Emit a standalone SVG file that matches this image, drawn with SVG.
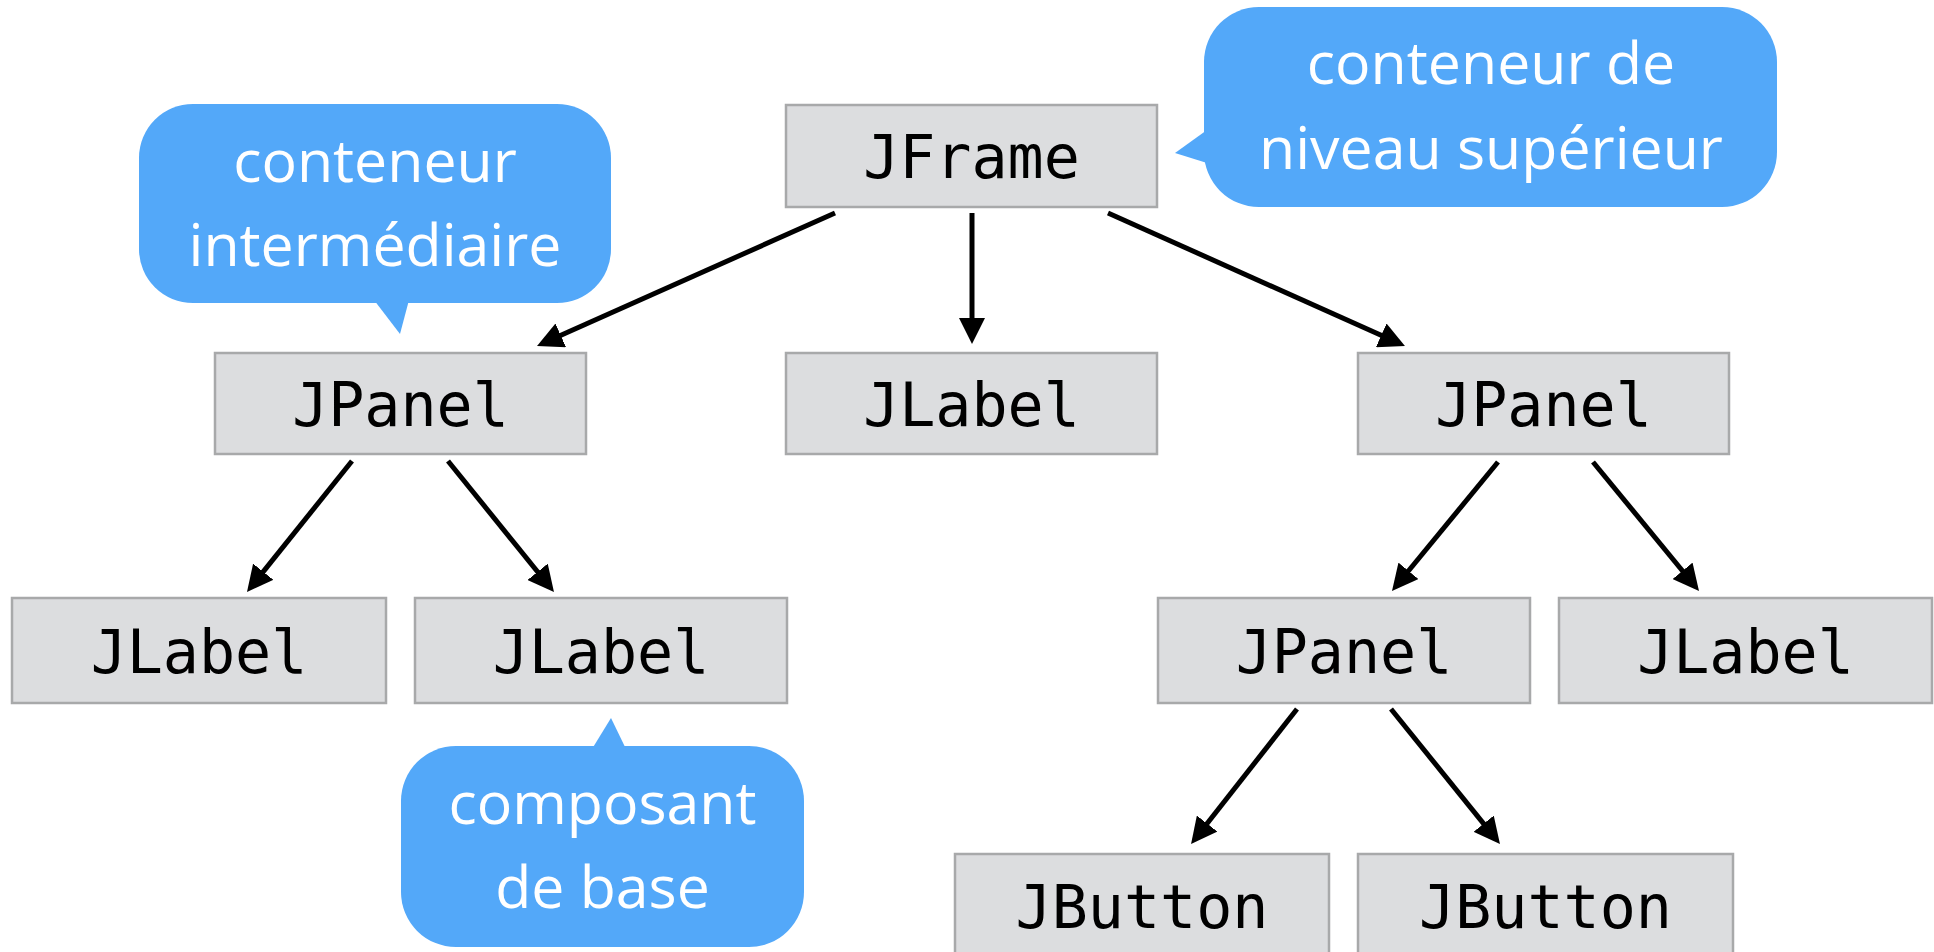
<svg xmlns="http://www.w3.org/2000/svg" width="1934" height="952" viewBox="0 0 1934 952">
<defs>
<style>
.box{fill:#dcdddf;stroke:#a8a9aa;stroke-width:2.5}
.lbl{font-family:"DejaVu Sans Mono","Liberation Mono",monospace;font-size:60px;fill:#000;text-anchor:middle}
.bub{fill:#53a8f9}
.btxt{font-family:"Open Sans","Noto Sans",sans-serif;font-weight:400;font-size:59px;fill:#fff;text-anchor:middle}
.edge{stroke:#000;stroke-width:5;fill:none;marker-end:url(#ah)}
</style>
<marker id="ah" markerUnits="userSpaceOnUse" markerWidth="26" markerHeight="26" refX="6" refY="13" orient="auto">
<path d="M0,0 L26,13 L0,26 Z" fill="#000"/>
</marker>
</defs>
<rect width="1934" height="952" fill="#fff"/>

<g id="connectors">
<line class="edge" x1="835" y1="213" x2="555.3" y2="337.8"/>
<line class="edge" x1="972" y1="213" x2="972" y2="324"/>
<line class="edge" x1="1108" y1="213" x2="1386.7" y2="337.8"/>
<line class="edge" x1="352" y1="461" x2="259.5" y2="576.4"/>
<line class="edge" x1="448" y1="461" x2="541.4" y2="576.5"/>
<line class="edge" x1="1498" y1="462" x2="1404.7" y2="575.5"/>
<line class="edge" x1="1593" y1="462" x2="1686.3" y2="575.5"/>
<line class="edge" x1="1297" y1="709" x2="1203.4" y2="828.3"/>
<line class="edge" x1="1391" y1="709" x2="1487.4" y2="828.4"/>
</g>

<g id="jframe"><rect class="box" x="786" y="105" width="371" height="102"/><text class="lbl" x="971.5" y="178">JFrame</text></g>
<g id="jpanel-left"><rect class="box" x="215" y="353" width="371" height="101"/><text class="lbl" x="400.5" y="426">JPanel</text></g>
<g id="jlabel-mid"><rect class="box" x="786" y="353" width="371" height="101"/><text class="lbl" x="971.5" y="426">JLabel</text></g>
<g id="jpanel-right"><rect class="box" x="1358" y="353" width="371" height="101"/><text class="lbl" x="1543.5" y="426">JPanel</text></g>
<g id="jlabel-1"><rect class="box" x="12" y="598" width="374" height="105"/><text class="lbl" x="199" y="673">JLabel</text></g>
<g id="jlabel-2"><rect class="box" x="415" y="598" width="372" height="105"/><text class="lbl" x="601" y="673">JLabel</text></g>
<g id="jpanel-inner"><rect class="box" x="1158" y="598" width="372" height="105"/><text class="lbl" x="1344" y="673">JPanel</text></g>
<g id="jlabel-right"><rect class="box" x="1559" y="598" width="373" height="105"/><text class="lbl" x="1745.5" y="673">JLabel</text></g>
<g id="jbutton-1"><rect class="box" x="955" y="854" width="374" height="110"/><text class="lbl" x="1142" y="928">JButton</text></g>
<g id="jbutton-2"><rect class="box" x="1358" y="854" width="375" height="110"/><text class="lbl" x="1545.5" y="928">JButton</text></g>

<g id="bubble-intermediaire">
<rect class="bub" x="139" y="104" width="472" height="199" rx="54" ry="54"/>
<polygon class="bub" points="374,300 409,300 400,334"/>
<text class="btxt" x="375" y="182">conteneur</text>
<text class="btxt" x="375" y="266">intermédiaire</text>
</g>
<g id="bubble-superieur">
<rect class="bub" x="1204" y="7" width="573" height="200" rx="55" ry="55"/>
<polygon class="bub" points="1207,130 1175,153 1207,163"/>
<text class="btxt" x="1491" y="84">conteneur de</text>
<text class="btxt" x="1491" y="169">niveau supérieur</text>
</g>
<g id="bubble-base">
<rect class="bub" x="401" y="746" width="403" height="201" rx="55" ry="55"/>
<polygon class="bub" points="592,749 611,718 626,749"/>
<text class="btxt" x="602.5" y="824">composant</text>
<text class="btxt" x="602.5" y="908">de base</text>
</g>
</svg>
